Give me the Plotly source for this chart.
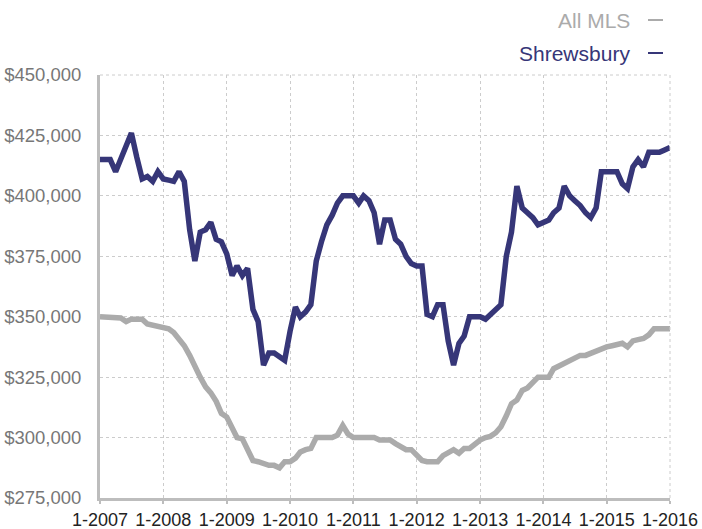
import pandas as pd
import plotly.graph_objects as go

# Monthly dates 1-2007 .. 1-2016
months = pd.date_range("2007-01-01", "2016-01-01", freq="MS")

shrewsbury_k = [
    415, 415, 415, 410, 415, 420, 426, 416, 407, 408, 406, 410,
    407, 406.5, 406, 410, 406, 386, 373, 385, 386, 389, 382, 381,
    376, 367, 371, 367, 370, 353, 348, 330, 335, 335, 333.5, 332,
    344, 354, 350, 352, 355, 373, 381, 388, 392, 397, 400, 400,
    400, 397, 400, 398, 393, 380, 390, 390, 382, 380, 375, 372,
    371, 371, 351, 350, 355, 355, 340, 330, 339, 342, 350, 350,
    350, 349, 351, 353, 355, 375, 385, 404, 395, 393, 391, 388,
    389, 390, 393, 395, 404, 400, 398, 396, 393, 391, 395, 410,
    410, 410, 410, 405, 403, 412, 415, 412, 418, 418, 418, 419,
    420,
]

all_mls_k = [
    350, 350, 350, 350, 349.5, 348, 349, 349, 349, 347, 346.5, 346,
    345.5, 345, 343.5, 341, 338, 334, 329, 325, 321, 318.5, 315, 310,
    308.5, 304, 300, 299.5, 295, 290.5, 290, 289, 288.5, 288.5, 287.5, 290,
    290, 291.5, 294, 295, 295.5, 300, 300, 300, 300, 301, 305, 301.5,
    300, 300, 300, 300, 300, 299, 299, 299, 297.5, 296, 295, 295,
    293, 290.5, 290, 290, 290, 292.5, 294, 295, 293.5, 295.5, 295.5, 297.5,
    299, 300, 300.5, 302, 304.5, 309, 314, 315.5, 319.5, 320.5, 323, 325,
    325, 325, 328.5, 329.5, 330.5, 331.5, 333, 334, 334, 335, 335.5, 336.5,
    337.5, 338, 338.5, 339, 337.5, 340, 340.5, 341, 342.5, 345, 345, 345,
    345,
]

shrewsbury = [v * 1000 for v in shrewsbury_k]
all_mls = [v * 1000 for v in all_mls_k]

year_ticks = pd.date_range("2007-01-01", "2016-01-01", freq="YS")
year_labels = [f"1-{d.year}" for d in year_ticks]
y_ticks = [275000, 300000, 325000, 350000, 375000, 400000, 425000, 450000]
y_labels = [f"&#36;{v:,}" for v in y_ticks]

NAVY = "#363678"
GRAY = "#ababab"
FONT = "Liberation Sans"

fig = go.Figure()
fig.add_trace(go.Scatter(x=months, y=all_mls, mode="lines", name="All MLS",
                         line=dict(color=GRAY, width=5.5)))
fig.add_trace(go.Scatter(x=months, y=shrewsbury, mode="lines", name="Shrewsbury",
                         line=dict(color=NAVY, width=5.5)))

fig.update_layout(
    width=702, height=529,
    margin=dict(l=100, r=32, t=75, b=31, autoexpand=False),
    paper_bgcolor="white", plot_bgcolor="white",
    showlegend=False,
    font=dict(family=FONT, size=18.5, color="#777777"),
)
fig.update_xaxes(
    range=[months[0], months[-1]],
    tickvals=list(year_ticks), ticktext=year_labels,
    tickfont=dict(family=FONT, size=18, color="#222222"),
    showgrid=True, gridcolor="#cccccc", griddash="dot", gridwidth=1,
    showline=True, linecolor="#bdbdbd", linewidth=3,
    ticks="outside", ticklen=3, tickcolor="#bdbdbd", tickwidth=1.5,
    zeroline=False, automargin=False,
)
fig.update_yaxes(
    range=[275000, 450000],
    tickvals=y_ticks, ticktext=y_labels,
    tickfont=dict(family=FONT, size=18.5, color="#777777"),
    showgrid=True, gridcolor="#cccccc", griddash="dot", gridwidth=1,
    showline=True, linecolor="#bdbdbd", linewidth=3,
    ticks="", ticklabelstandoff=12,
    zeroline=False, automargin=False,
)

# Legend drawn as text + dash on the right (as in the reference)
legend_items = [("All MLS", GRAY, 1.130), ("Shrewsbury", NAVY, 1.052)]
for name, color, yp in legend_items:
    fig.add_annotation(xref="paper", yref="paper", x=0.9333, y=yp,
                       text=name, showarrow=False, xanchor="right", yanchor="middle",
                       font=dict(family=FONT, size=21, color=color))
    fig.add_shape(type="line", xref="paper", yref="paper",
                  x0=0.9614, x1=0.9877, y0=yp, y1=yp,
                  line=dict(color=color, width=2))

# dotted top / right border
fig.add_shape(type="line", xref="paper", yref="paper", x0=0, x1=1, y0=1, y1=1,
              line=dict(color="#cccccc", width=1, dash="dot"))
fig.add_shape(type="line", xref="paper", yref="paper", x0=1, x1=1, y0=0, y1=1,
              line=dict(color="#cccccc", width=1, dash="dot"))

# remove the page's default 8px body margin so the figure fills the window
fig.write_html("out.html",
               config={"displayModeBar": False},
               post_script="document.body.style.margin='0';document.body.style.overflow='hidden';")
